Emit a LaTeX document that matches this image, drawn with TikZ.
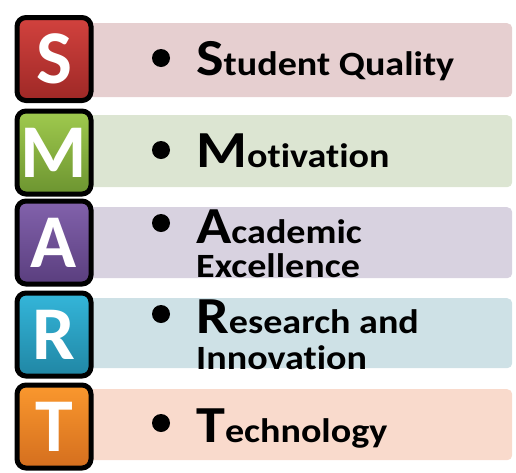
\documentclass[tikz,border=0pt]{standalone}
\usepackage{fontspec}
\newfontfamily\smartfont[FakeStretch=1.12,Ligatures={NoCommon,NoContextual}]{Carlito}
\newfontfamily\boxfont[Ligatures={NoCommon,NoContextual}]{Carlito}
\definecolor{sTop}{RGB}{210,66,62}
\definecolor{sBot}{RGB}{158,40,38}
\definecolor{mTop}{RGB}{160,202,78}
\definecolor{mBot}{RGB}{108,148,48}
\definecolor{aTop}{RGB}{130,98,172}
\definecolor{aBot}{RGB}{90,62,126}
\definecolor{rTop}{RGB}{52,182,218}
\definecolor{rBot}{RGB}{32,134,164}
\definecolor{tTop}{RGB}{250,152,46}
\definecolor{tBot}{RGB}{212,110,30}
\definecolor{sBan}{RGB}{230,207,208}
\definecolor{mBan}{RGB}{220,229,210}
\definecolor{aBan}{RGB}{216,210,224}
\definecolor{rBan}{RGB}{206,225,230}
\definecolor{tBan}{RGB}{249,218,204}
\tikzset{
  banner/.style={rectangle, rounded corners=5pt, anchor=north west, inner sep=0pt,
    minimum width=424pt, fill=#1, draw=none},
  letterbox/.style={rectangle, rounded corners=9pt, draw=black, line width=5pt,
    minimum width=74pt, minimum height=83pt, inner sep=0pt, text=white,
    font=\boxfont\bfseries\fontsize{76}{76}\selectfont},
  itemtext/.style={anchor=base west, inner sep=0pt,
    font=\smartfont\bfseries\fontsize{34}{40}\selectfont},
  bulletdot/.style={circle, fill=black, minimum size=18pt, inner sep=0pt}
}
\newcommand{\bigletter}[1]{{\fontsize{52}{52}\selectfont #1}}
\begin{document}
\begin{tikzpicture}[x=1pt,y=-1pt]
\useasboundingbox (0,0) rectangle (516,472);
% banners
\node[banner=sBan, minimum height=74pt] (bS) at (88,23) {};
\node[banner=mBan, minimum height=72pt] (bM) at (88,115) {};
\node[banner=aBan, minimum height=71pt] (bA) at (88,207) {};
\node[banner=rBan, minimum height=70pt] (bR) at (88,298) {};
\node[banner=tBan, minimum height=71pt] (bT) at (88,389) {};
% letter boxes
\node[letterbox, top color=sTop, bottom color=sBot] (lS) at (54,59) {S};
\node[letterbox, top color=mTop, bottom color=mBot] (lM) at (54,152.5) {M};
\node[letterbox, top color=aTop, bottom color=aBot] (lA) at (54,242.5) {A};
\node[letterbox, top color=rTop, bottom color=rBot] (lR) at (54,334.5) {R};
\node[letterbox, top color=tTop, bottom color=tBot] (lT) at (54,426.5) {T};
% bullets
\node[bulletdot] (dS) at (161,58) {};
\node[bulletdot] (dM) at (161,150) {};
\node[bulletdot] (dA) at (161,223) {};
\node[bulletdot] (dR) at (161,314) {};
\node[bulletdot] (dT) at (161,423) {};
% texts
\node[itemtext] (tS) at (196,75) {\bigletter{S}tudent Quality};
\node[itemtext] (tM) at (196,167) {\bigletter{M}otivation};
\node[itemtext] (tA) at (196,243) {\bigletter{A}cademic};
\node[itemtext] (tA2) at (196,277) {Excellence};
\node[itemtext] (tR) at (196,333) {\bigletter{R}esearch and};
\node[itemtext] (tR2) at (196,369) {Innovation};
\node[itemtext] (tT) at (196,442) {\bigletter{T}echnology};
\end{tikzpicture}
\end{document}
